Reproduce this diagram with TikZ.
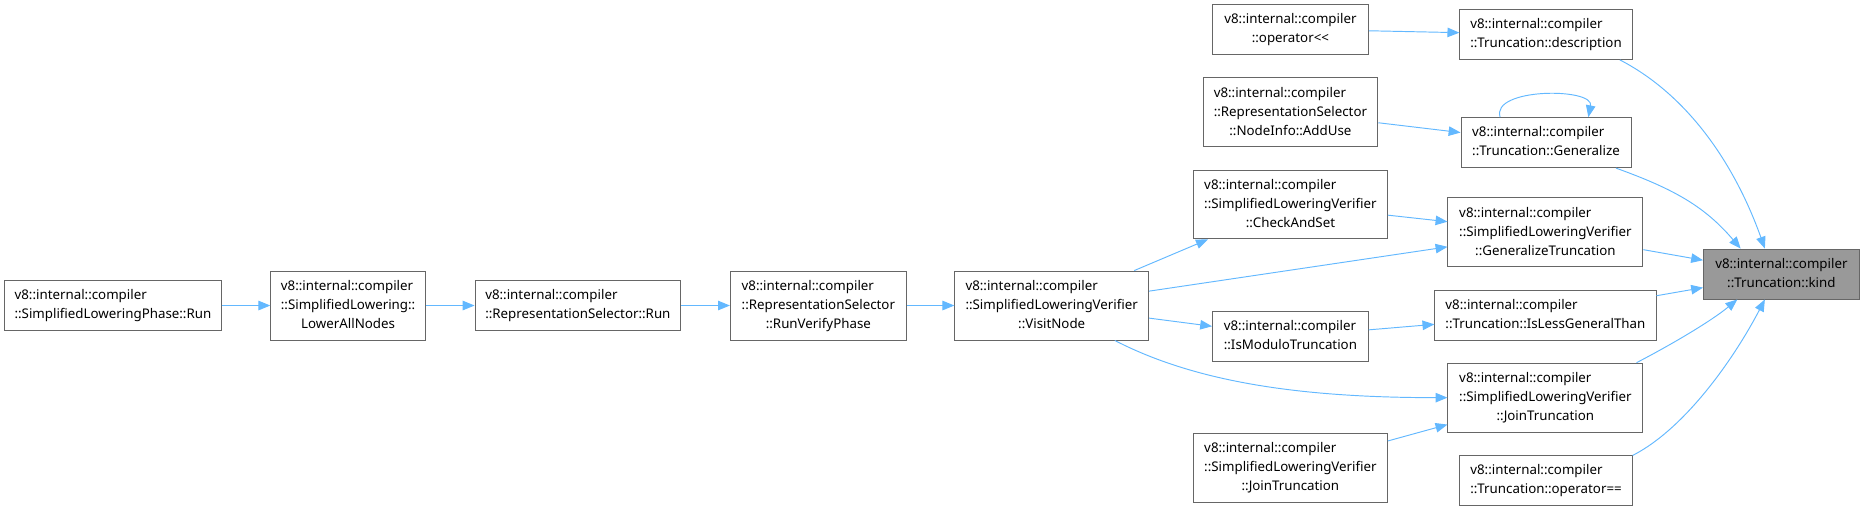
\documentclass[tikz,border=0pt]{standalone}
\usepackage{fontspec}
\setmainfont{Noto Sans}
\usetikzlibrary{positioning, arrows.meta}
\definecolor{doxEdge}{HTML}{63B8FF}
\definecolor{doxFrame}{HTML}{666666}
\definecolor{doxFocus}{HTML}{999999}
\newcommand{\fnname}[2]{\begin{tabular}{@{}l@{}}#1\\\multicolumn{1}{@{}c@{}}{#2}\end{tabular}}

\begin{document}
\begin{tikzpicture}[
            x=1pt, y=-1pt,
            fn/.style={rectangle, draw=doxFrame, line width=0.8pt, fill=white,
                       inner xsep=6pt, inner ysep=5pt,
                       font={\fontsize{11.2pt}{16pt}\selectfont}},
            focus/.style={fn, fill=doxFocus},
            call/.style={-{Triangle[length=10pt, width=8pt]}, color=doxEdge, line width=0.8pt},
            node distance=41pt,
        ]
            \useasboundingbox (0,0) rectangle (1568,429);

            % Calling chain along the middle row
            \node[fn, minimum width=182pt] (phaseRun) at (95,257)
                {\fnname{v8::internal::compiler}{::SimplifiedLoweringPhase::Run}};
            \node[fn, minimum width=130pt, right=of phaseRun] (lowerAll)
                {\fnname{v8::internal::compiler\\::SimplifiedLowering::}{LowerAllNodes}};
            \node[fn, minimum width=173pt, right=of lowerAll] (rsRun)
                {\fnname{v8::internal::compiler}{::RepresentationSelector::Run}};
            \node[fn, minimum width=148pt, right=of rsRun] (runVerify)
                {\fnname{v8::internal::compiler\\::RepresentationSelector}{::RunVerifyPhase}};
            \node[fn, minimum width=163pt, right=40pt of runVerify] (visitNode)
                {\fnname{v8::internal::compiler\\::SimplifiedLoweringVerifier}{::VisitNode}};

            % Second column
            \node[fn, minimum width=131pt] (opShift) at (1085.5,24.5)
                {\fnname{v8::internal::compiler}{::operator<\kern0pt<}};
            \node[fn, minimum width=147pt] (addUse) at (1085.5,94.5)
                {\fnname{v8::internal::compiler\\::RepresentationSelector}{::NodeInfo::AddUse}};
            \node[fn, minimum width=163pt] (checkAndSet) at (1085.5,172)
                {\fnname{v8::internal::compiler\\::SimplifiedLoweringVerifier}{::CheckAndSet}};
            \node[fn, minimum width=131pt] (isModulo) at (1085.5,283)
                {\fnname{v8::internal::compiler}{::IsModuloTruncation}};
            \node[fn, minimum width=163pt] (joinTruncB) at (1085.5,393.5)
                {\fnname{v8::internal::compiler\\::SimplifiedLoweringVerifier}{::JoinTruncation}};

            % Third column
            \node[fn, minimum width=145pt] (description) at (1300.5,29)
                {\fnname{v8::internal::compiler}{::Truncation::description}};
            \node[fn, minimum width=143pt] (generalize) at (1300.5,120)
                {\fnname{v8::internal::compiler}{::Truncation::Generalize}};
            \node[fn, minimum width=164pt] (genTrunc) at (1300,195.5)
                {\fnname{v8::internal::compiler\\::SimplifiedLoweringVerifier}{::GeneralizeTruncation}};
            \node[fn, minimum width=186pt] (isLessGeneral) at (1300,265)
                {\fnname{v8::internal::compiler}{::Truncation::IsLessGeneralThan}};
            \node[fn, minimum width=164pt] (joinTrunc) at (1300,334.5)
                {\fnname{v8::internal::compiler\\::SimplifiedLoweringVerifier}{::JoinTruncation}};
            \node[fn, minimum width=145pt] (opEq) at (1300.5,404)
                {\fnname{v8::internal::compiler}{::Truncation::operator==}};

            % The function itself
            \node[focus, minimum width=131pt] (kind) at (1498.5,230.5)
                {\fnname{v8::internal::compiler}{::Truncation::kind}};

            \draw[call] (phaseRun) -- (lowerAll);
            \draw[call] (lowerAll) -- (rsRun);
            \draw[call] (rsRun) -- (runVerify);
            \draw[call] (runVerify) -- (visitNode);
            \draw[call] (visitNode) -- (checkAndSet);
            \draw[call] (visitNode) -- (genTrunc);
            \draw[call] (visitNode) -- (isModulo);
            \draw[call] (visitNode.-29) .. controls +(66,34) and +(-128,0) .. (joinTrunc.west);
            \draw[call] (opShift) -- (description);
            \draw[call] (addUse) -- (generalize);
            \draw[call] (checkAndSet) -- (genTrunc);
            \draw[call] (isModulo) -- (isLessGeneral);
            \draw[call] (joinTruncB) -- (joinTrunc);
            \draw[call] (generalize.151) .. controls +(-8,-25) and +(5,-25) .. (generalize.31);
            \draw[call] (description.-19) .. controls +(58,30) and +(-25,-70) .. (kind.123);
            \draw[call] (generalize.-20) .. controls +(50,18) and +(-30,-35) .. (kind.148);
            \draw[call] (genTrunc) -- (kind);
            \draw[call] (isLessGeneral) -- (kind);
            \draw[call] (joinTrunc.21) .. controls +(27,-14) and +(-23,19) .. (kind.210);
            \draw[call] (opEq.16) .. controls +(45,-23) and +(-25,48) .. (kind.-123);
        \end{tikzpicture}
\end{document}
